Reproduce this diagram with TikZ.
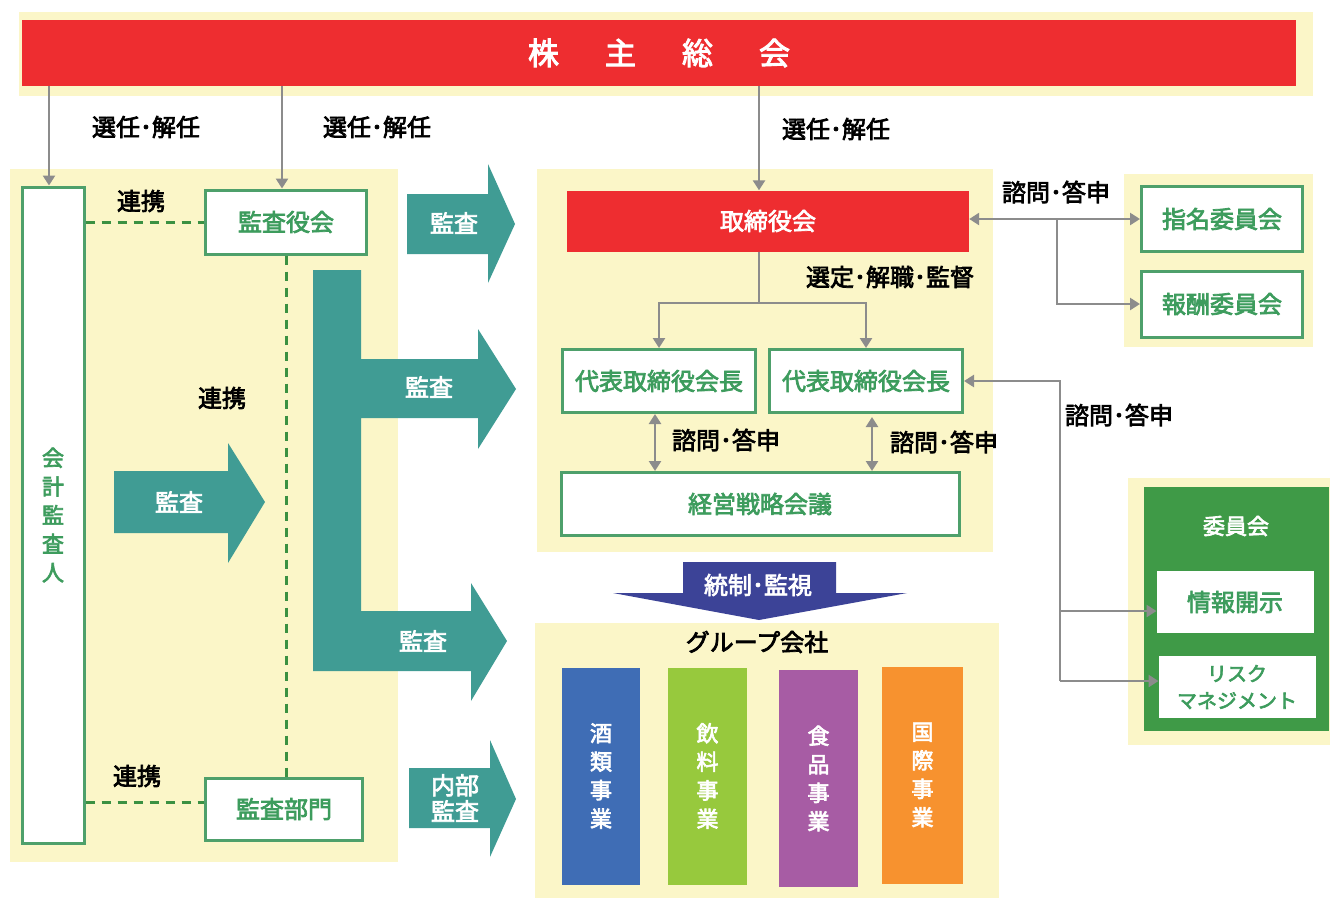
\documentclass[tikz,border=0pt]{standalone}
\usepackage{fontspec}
\setmainfont{Noto Sans CJK JP}[FakeBold=3]
\usetikzlibrary{arrows.meta}
\definecolor{cred}{HTML}{EE2D30}
\definecolor{cyel}{HTML}{FBF6C8}
\definecolor{cteal}{HTML}{409C94}
\definecolor{cgreen}{HTML}{4EA06B}
\definecolor{ctext}{HTML}{3D9C5D}
\definecolor{clink}{HTML}{3B9142}
\definecolor{cgray}{HTML}{8C8C8C}
\definecolor{cdgreen}{HTML}{3F9A47}
\definecolor{cnavy}{HTML}{3C4397}
\definecolor{cblue}{HTML}{3F6DB5}
\definecolor{clime}{HTML}{97C93D}
\definecolor{cpurple}{HTML}{A75CA4}
\definecolor{corange}{HTML}{F7922F}
\newcommand\myfont[2]{\fontsize{#1}{#2}\selectfont}
\tikzset{
  panel/.style={fill=cyel},
  gbox/.style={draw=cgreen, line width=3pt, fill=white, text=ctext, font=\myfont{24}{28}, inner sep=0pt, align=center},
  garrow/.style={draw=cgray, line width=2.8pt, -{Triangle[length=10pt,width=12pt]}},
  gdarrow/.style={draw=cgray, line width=2.8pt, {Triangle[length=10pt,width=12pt]}-{Triangle[length=10pt,width=12pt]}},
  gline/.style={draw=cgray, line width=2.8pt},
  link/.style={draw=clink, line width=3pt, dash pattern=on 9pt off 7pt},
  lbl/.style={font=\myfont{24}{28}, text=black, inner sep=0pt},
  wlbl/.style={font=\myfont{24}{27}, text=white, inner sep=0pt, align=center},
  bar/.style={inner sep=0pt, text=white, font=\myfont{22}{28.5}, align=center},
}
\begin{document}
\begin{tikzpicture}[x=1pt,y=-1pt]
\fill[white] (0,0) rectangle (1330,898);
\useasboundingbox (0,0) rectangle (1330,898);
% panels
\fill[panel] (19,12) rectangle (1313,96);
\fill[panel] (10,169) rectangle (398,862);
\fill[panel] (537,169) rectangle (993,552);
\fill[panel] (1124,174) rectangle (1313,347);
\fill[panel] (1128,478) rectangle (1330,745);
\fill[panel] (535,623) rectangle (999,898);
% top bar
\node[fill=cred, minimum width=1274pt, minimum height=66pt, inner sep=0pt, text=white, font=\myfont{31}{34}] (gm) at (659,53) {株\hspace{46pt}主\hspace{46pt}総\hspace{46pt}会};
% left boxes
\node[gbox, minimum width=62pt, minimum height=656pt, font=\myfont{22}{28.7}] (kaikei) at (53,515) {会\\計\\監\\査\\人};
\node[gbox, minimum width=161pt, minimum height=64pt] (kansayaku) at (286,222) {監査役会};
\node[gbox, minimum width=157pt, minimum height=62pt] (kansabumon) at (284,809) {監査部門};
% center
\node[fill=cred, minimum width=402pt, minimum height=61pt, inner sep=0pt, text=white, font=\myfont{24}{28}] (torishimari) at (768,221) {取締役会};
\node[gbox, minimum width=193pt, minimum height=63pt] (ceo1) at (659,381) {代表取締役会長};
\node[gbox, minimum width=193pt, minimum height=63pt] (ceo2) at (866,381) {代表取締役会長};
\node[gbox, minimum width=398pt, minimum height=63pt] (keiei) at (760,504) {経営戦略会議};
% right
\node[gbox, minimum width=161pt, minimum height=65pt] (shimei) at (1222,219) {指名委員会};
\node[gbox, minimum width=161pt, minimum height=66pt] (hoshu) at (1222,304) {報酬委員会};
\fill[cdgreen] (1144,487) rectangle (1329,731);
\node[wlbl, font=\myfont{22}{26}] (iinkai) at (1236,526) {委員会};
\node[gbox, draw=white, line width=1pt, minimum width=156pt, minimum height=61pt] (joho) at (1235,602) {情報開示};
\node[gbox, draw=white, line width=1pt, minimum width=156pt, minimum height=61pt, font=\myfont{20}{27}] (risk) at (1237,687) {リスク\\マネジメント};
% group companies
\node[lbl] (group) at (757,642) {グループ会社};
\node[bar, fill=cblue, minimum width=78pt, minimum height=217pt] (sake) at (601,776) {酒\\類\\事\\業};
\node[bar, fill=clime, minimum width=79pt, minimum height=217pt] (inryo) at (707.5,776) {飲\\料\\事\\業};
\node[bar, fill=cpurple, minimum width=79pt, minimum height=217pt] (shokuhin) at (818.5,778.5) {食\\品\\事\\業};
\node[bar, fill=corange, minimum width=81pt, minimum height=217pt] (kokusai) at (922.5,775) {国\\際\\事\\業};
% teal audit arrows
\fill[cteal] (407,194) -- (488,194) -- (488,164) -- (515,224) -- (488,283) -- (488,254) -- (407,254) -- cycle;
\node[wlbl] (a1) at (454,223) {監査};
\fill[cteal] (114,471) -- (228,471) -- (228,443) -- (265,502) -- (228,563) -- (228,533) -- (114,533) -- cycle;
\node[wlbl] (a2) at (179,502) {監査};
\fill[cteal] (313,270) -- (361,270) -- (361,359) -- (478,359) -- (478,329) -- (516,389) -- (478,449) -- (478,418) -- (361,418) -- (361,611) -- (471,611) -- (471,583) -- (507,641) -- (471,701) -- (471,671) -- (313,671) -- cycle;
\node[wlbl] (a3) at (429,387) {監査};
\node[wlbl] (a4) at (423,641) {監査};
\fill[cteal] (409,768) -- (490,768) -- (490,740) -- (516,799) -- (490,857) -- (490,828) -- (409,828) -- cycle;
\node[wlbl, font=\myfont{24}{26}] (a5) at (455,798) {内部\\監査};
% navy arrow
\fill[cnavy] (683,562) -- (836,562) -- (836,593) -- (907,593) -- (759,620) -- (613,593) -- (683,593) -- cycle;
\node[wlbl] (tosei) at (758,585) {統制･監視};
% gray connectors
\coordinate (k1) at ([xshift=-4pt]kaikei.north);
\draw[garrow] (gm.south -| k1) -- (k1);
\coordinate (k2) at (282,0);
\draw[garrow] (gm.south -| k2) -- (kansayaku.north -| k2);
\coordinate (k3) at (759,0);
\draw[garrow] (gm.south -| k3) -- (torishimari.north -| k3);
\node[lbl] (l1) at (146,127) {選任･解任};
\node[lbl] (l2) at (377,127) {選任･解任};
\node[lbl] (l3) at (836,129) {選任･解任};
% links
\draw[link] (kaikei.east |- kansayaku.west) -- (kansayaku.west);
\coordinate (kb) at ([yshift=7pt]kansabumon.west);
\draw[link] (kaikei.east |- kb) -- (kb);
\draw[link] (kansayaku.south) -- (kansayaku.south |- kansabumon.north);
\node[lbl] (r1) at (141,201) {連携};
\node[lbl] (r2) at (222,398) {連携};
\node[lbl] (r3) at (137,776) {連携};
% board to ceos
\coordinate (bj) at (759,303);
\draw[gline] (torishimari.south -| bj) -- (bj);
\draw[garrow] (bj) -| (ceo1.north);
\draw[garrow] (bj) -| (ceo2.north);
\node[lbl] (l4) at (890,277) {選定･解職･監督};
\coordinate (c1) at (655,0);
\draw[gdarrow] (ceo1.south -| c1) -- (keiei.north -| c1);
\coordinate (c2) at (872,417);
\draw[gdarrow] (c2) -- (keiei.north -| c2);
\node[lbl] (l5) at (726,440) {諮問･答申};
\node[lbl] (l6) at (944,442) {諮問･答申};
% board to committees
\draw[gdarrow] (torishimari.east |- shimei.west) -- (shimei.west);
\coordinate (sj) at (1057,0);
\draw[garrow] (shimei.west -| sj) |- (hoshu.west);
\node[lbl] (l7) at (1056,192) {諮問･答申};
% ceo2 to iinkai
\coordinate (jw) at ([yshift=-9pt]joho.west);
\coordinate (rw) at ([yshift=6pt]risk.west);
\coordinate (vj) at (1060,0);
\draw[garrow] (rw -| vj) |- (ceo2.east);
\draw[garrow] (jw -| vj) -- (jw);
\draw[garrow] (rw -| vj) -- (rw);
\node[lbl] (l8) at (1119,415) {諮問･答申};
\end{tikzpicture}
\end{document}
